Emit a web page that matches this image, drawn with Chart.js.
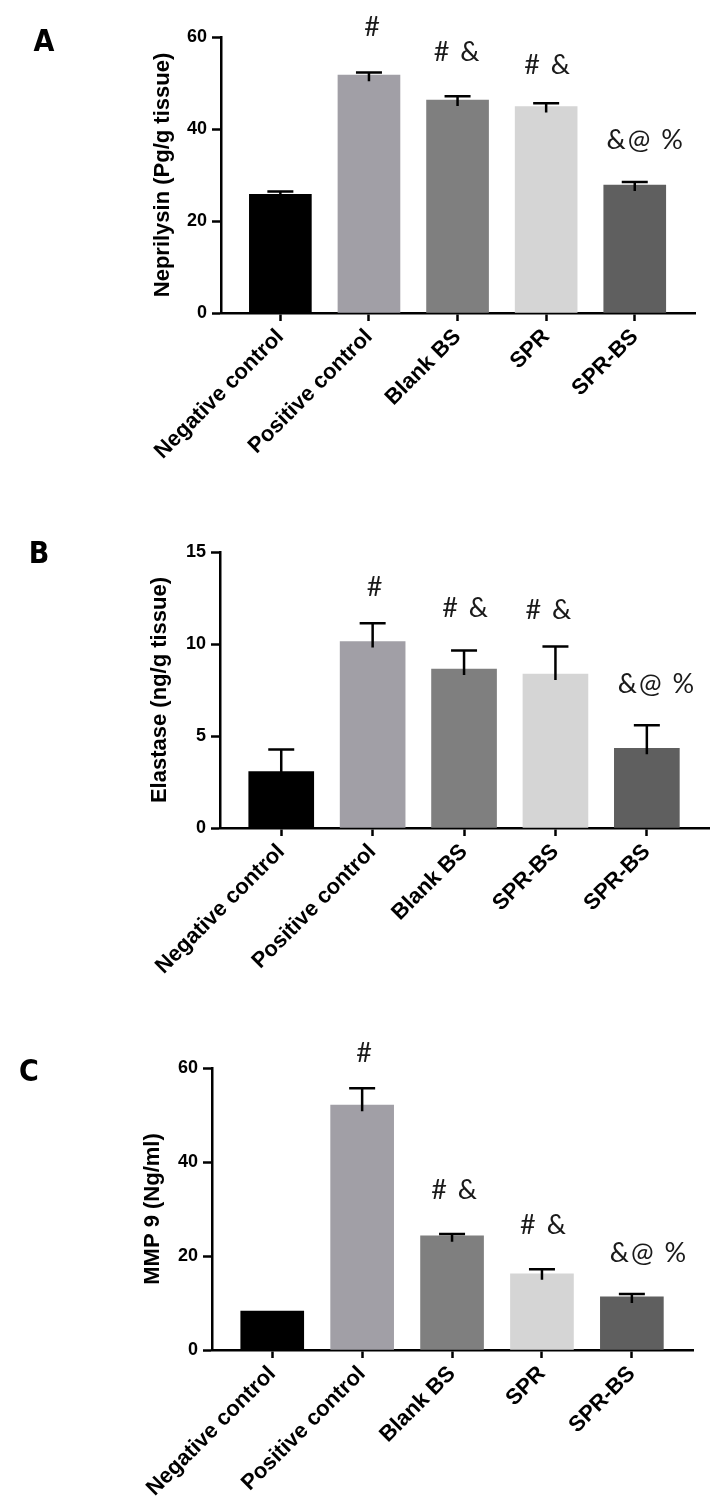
<!DOCTYPE html>
<html>
<head>
<meta charset="utf-8">
<script src="https://cdn.jsdelivr.net/npm/chart.js@4.4.1/dist/chart.umd.min.js"></script>
<style>
  body { margin: 0; background: #fff; }
  canvas { position: absolute; left: 0; }
</style>
</head>
<body>
<canvas id="chartA" width="717" height="480" style="top:0px"></canvas>
<canvas id="chartB" width="717" height="520" style="top:480px"></canvas>
<canvas id="chartC" width="717" height="544" style="top:960px"></canvas>
<script>
// groups on the x axis (panel B repeats SPR-BS as printed)
const groupsA = ['Negative control', 'Positive control', 'Blank BS', 'SPR', 'SPR-BS'];
const groupsB = ['Negative control', 'Positive control', 'Blank BS', 'SPR-BS', 'SPR-BS'];
const groupsC = ['Negative control', 'Positive control', 'Blank BS', 'SPR', 'SPR-BS'];

// means and error (upper bar only)
const neprilysin = [25.8, 51.7, 46.3, 44.9, 27.8];
const neprilysinErr = [0.6, 0.6, 0.8, 0.7, 0.7];
const elastase = [3.06, 10.13, 8.64, 8.37, 4.33];
const elastaseErr = [1.2, 1.0, 1.0, 1.5, 1.25];
const mmp9 = [8.3, 52.1, 24.3, 16.2, 11.3];
const mmp9Err = [0, 3.6, 0.4, 1.0, 0.6];

// significance marks above the bars
const marks = ['', '#', '# &', '# &', '&@ %'];

// y tick labels
const yTicksA = [0, 20, 40, 60];
const yTicksB = [0, 5, 10, 15];
const yTicksC = [0, 20, 40, 60];

const barColors = ['#000000', '#a19fa6', '#7f7f7f', '#d5d5d5', '#5f5f5f'];
const bold = size => ({ family: "'Liberation Sans', Arial, sans-serif", weight: 'bold', size });

const extras = {
  id: 'extras',
  afterDatasetsDraw(chart, args, o) {
    const ctx = chart.ctx;
    const y = chart.scales.y;
    const bars = chart.getDatasetMeta(0).data;
    ctx.save();
    ctx.strokeStyle = '#000';
    ctx.lineWidth = 2.5;
    bars.forEach((bar, i) => {
      const capY = y.getPixelForValue(o.values[i] + o.errors[i]);
      if (o.errors[i] > 0) {
        ctx.beginPath();
        ctx.moveTo(bar.x, bar.y + 6);
        ctx.lineTo(bar.x, capY);
        ctx.moveTo(bar.x - 13, capY);
        ctx.lineTo(bar.x + 13, capY);
        ctx.stroke();
      }
      if (o.marks[i]) {
        ctx.font = "27px Lato, 'Open Sans', sans-serif";
        ctx.letterSpacing = '2px';
        ctx.fillStyle = '#1a1a1a';
        ctx.textAlign = 'center';
        ctx.textBaseline = 'middle';
        ctx.fillText(o.marks[i], bar.x + o.shift[i], capY - o.gap[i]);
      }
    });
    ctx.letterSpacing = '0px';
    ctx.font = "bold 30px 'Liberation Sans Narrow', 'DejaVu Sans Condensed', sans-serif";
    ctx.fillStyle = '#000';
    ctx.textAlign = 'center';
    ctx.textBaseline = 'middle';
    ctx.fillText(o.letter, o.letterX, o.letterY);
    ctx.restore();
  }
};

function panel(id, p) {
  new Chart(document.getElementById(id), {
    type: 'bar',
    data: {
      datasets: [{
        data: p.values.map((v, i) => ({ x: i, y: v })),
        backgroundColor: barColors,
        barThickness: p.barWidth,
        borderWidth: 0
      }]
    },
    options: {
      responsive: false,
      animation: false,
      layout: { padding: { top: p.top, right: p.right, left: 0, bottom: 0 } },
      plugins: {
        legend: { display: false },
        tooltip: { enabled: false },
        extras: {
          values: p.values, errors: p.errors, marks,
          gap: p.gap, shift: p.shift,
          letter: p.letter, letterX: p.letterX, letterY: p.letterY
        }
      },
      scales: {
        x: {
          type: 'linear',
          min: -0.67,
          max: 4.68,
          offset: false,
          afterBuildTicks: s => { s.ticks = p.groups.map((g, i) => ({ value: i })); },
          afterFit: s => { s.height = p.xHeight; },
          ticks: {
            autoSkip: false,
            minRotation: 45,
            maxRotation: 45,
            padding: 3,
            color: '#000',
            font: bold(22),
            callback: v => p.groups[v]
          },
          grid: { drawOnChartArea: false, offset: false, tickLength: 8, tickWidth: 2.5, tickColor: '#000' },
          border: { display: true, color: '#000', width: 2.5 }
        },
        y: {
          min: 0,
          max: p.yTicks[p.yTicks.length - 1],
          afterBuildTicks: s => { s.ticks = p.yTicks.map(v => ({ value: v })); },
          afterFit: s => { s.width = p.left; },
          ticks: { padding: 5, color: '#000', font: bold(18) },
          grid: { drawOnChartArea: false, tickLength: 9, tickWidth: 2.5, tickColor: '#000' },
          border: { display: true, color: '#000', width: 2.5 },
          title: {
            display: true,
            text: p.title,
            color: '#000',
            font: bold(22),
            padding: { top: p.titleX - 13, bottom: 0 }
          }
        }
      }
    },
    plugins: [extras]
  });
}

panel('chartA', {
  groups: groupsA, values: neprilysin, errors: neprilysinErr, yTicks: yTicksA,
  title: 'Neprilysin (Pg/g tissue)', titleX: 163,
  left: 221, right: 22, top: 37, xHeight: 167, barWidth: 62,
  gap: [0, 45, 44, 38, 42], shift: [0, 4, 0, 2, 11],
  letter: 'A', letterX: 44, letterY: 43
});

panel('chartB', {
  groups: groupsB, values: elastase, errors: elastaseErr, yTicks: yTicksB,
  title: 'Elastase (ng/g tissue)', titleX: 160,
  left: 220, right: 8, top: 72, xHeight: 172, barWidth: 65,
  gap: [0, 36, 42, 36, 41], shift: [0, 3, 2, -6, 10],
  letter: 'B', letterX: 39, letterY: 75
});

panel('chartC', {
  groups: groupsC, values: mmp9, errors: mmp9Err, yTicks: yTicksC,
  title: 'MMP 9 (Ng/ml)', titleX: 153,
  left: 212, right: 24, top: 108, xHeight: 154, barWidth: 63,
  gap: [0, 35, 44, 44, 41], shift: [0, 3, 3, 2, 17],
  letter: 'C', letterX: 29, letterY: 113
});
</script>
</body>
</html>
